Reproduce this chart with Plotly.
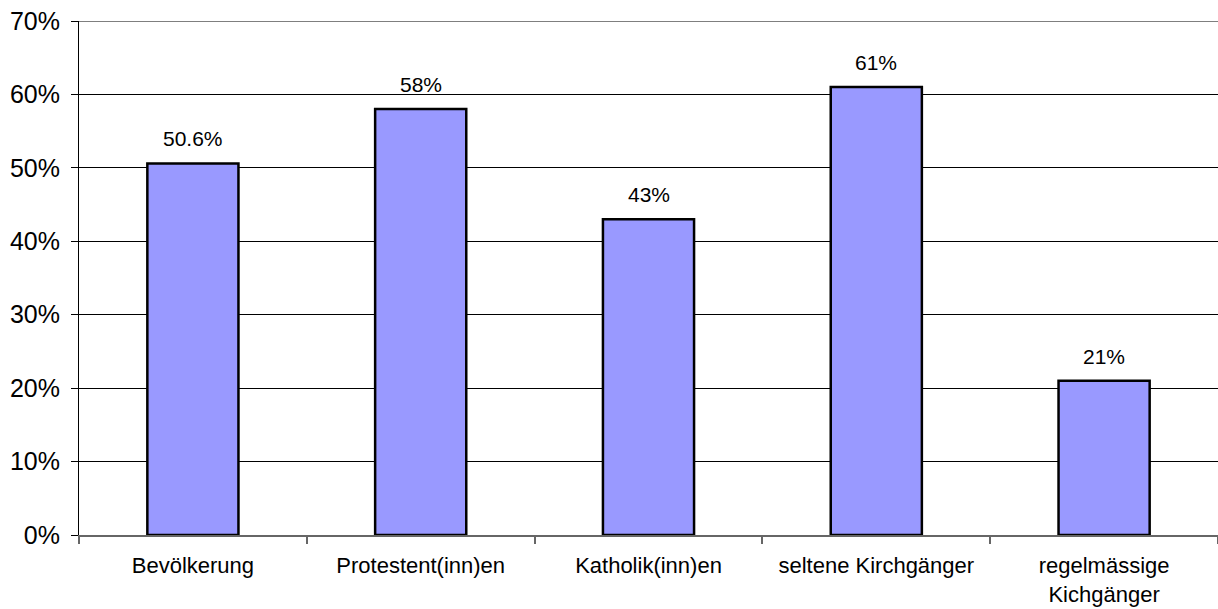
import plotly.graph_objects as go

categories = ["Bevölkerung", "Protestent(inn)en", "Katholik(inn)en",
              "seltene Kirchgänger", "regelmässige<br>Kichgänger"]
values = [50.6, 58, 43, 61, 21]
value_labels = ["50.6%", "58%", "43%", "61%", "21%"]
y_ticks = [0, 10, 20, 30, 40, 50, 60, 70]
y_tick_labels = ["0%", "10%", "20%", "30%", "40%", "50%", "60%", "70%"]
y_max = 70

fig = go.Figure()
fig.add_trace(go.Bar(
    x=categories, y=values, width=0.4,
    marker=dict(color="#9999FF", line=dict(color="#000000", width=2.5)),
    hoverinfo="skip",
))
for c, v, t in zip(categories, values, value_labels):
    fig.add_annotation(x=c, y=v, text=t, showarrow=False, yanchor="bottom",
                       yshift=11, font=dict(family="Liberation Sans, Arial", size=21, color="#000"))

# top gridline at the range end
fig.add_shape(type="line", xref="paper", yref="y", x0=0, x1=1, y0=y_max, y1=y_max,
              line=dict(color="#000", width=1), layer="below")

fig.update_layout(
    width=1218, height=609,
    margin=dict(l=79, r=0, t=21, b=74, autoexpand=False),
    paper_bgcolor="white", plot_bgcolor="white",
    showlegend=False,
    font=dict(family="Liberation Sans, Arial", color="#000"),
    bargap=0.6,
)
fig.update_xaxes(
    type="category", range=[-0.5, 4.5], automargin=False,
    showline=True, linecolor="#666", linewidth=1.5,
    ticks="outside", tickson="boundaries", ticklen=7, tickcolor="#666", tickwidth=1.5,
    tickfont=dict(size=22), ticklabelstandoff=10, showgrid=False,
)
fig.update_yaxes(
    range=[0, y_max], tickvals=y_ticks, ticktext=y_tick_labels, automargin=False,
    showline=True, linecolor="#000", linewidth=1,
    ticks="outside", ticklen=7, tickcolor="#000",
    tickfont=dict(size=25), ticklabelstandoff=6, ticklabeloverflow="allow",
    showgrid=True, gridcolor="#000", gridwidth=1, zeroline=False,
)
fig.write_html("out.html", config={"displayModeBar": False},
               post_script="document.body.style.margin='0';document.body.style.overflow='hidden';")
